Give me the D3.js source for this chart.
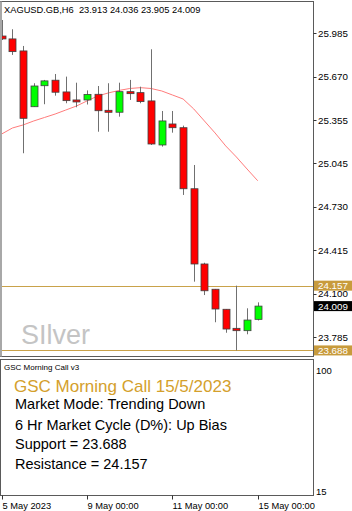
<!DOCTYPE html>
<html>
<head>
<meta charset="utf-8">
<script src="https://cdn.jsdelivr.net/npm/d3@7"></script>
<style>
  body { margin: 0; background: #fff; }
  svg { display: block; font-family: 'Liberation Sans', Arial, sans-serif; }
</style>
</head>
<body>
<div id="chart"></div>
<script>
// H6 bars, XAGUSD
const times = [
  '5 May 00:00', '5 May 06:00', '5 May 12:00', '5 May 18:00',
  '8 May 00:00', '8 May 06:00', '8 May 12:00', '8 May 18:00',
  '9 May 00:00', '9 May 06:00', '9 May 12:00', '9 May 18:00',
  '10 May 00:00', '10 May 06:00', '10 May 12:00', '10 May 18:00',
  '11 May 00:00', '11 May 06:00', '11 May 12:00', '11 May 18:00',
  '12 May 00:00', '12 May 06:00', '12 May 12:00', '12 May 18:00',
  '15 May 00:00'
]
const opens = [25.965, 25.944, 25.857, 25.453, 25.605, 25.645, 25.560, 25.502, 25.502, 25.543, 25.427, 25.413, 25.562, 25.555, 25.495, 25.176, 25.328, 25.301, 24.859, 24.314, 24.131, 23.986, 23.848, 23.831, 23.913]
const highs = [26.081, 26.014, 25.893, 25.623, 25.647, 25.690, 25.671, 25.627, 25.571, 25.603, 25.623, 25.627, 25.647, 25.598, 25.869, 25.422, 25.422, 25.316, 25.031, 24.323, 24.133, 23.988, 24.157, 23.993, 24.036]
const lows = [25.936, 25.828, 25.116, 25.451, 25.471, 25.533, 25.478, 25.449, 25.469, 25.272, 25.272, 25.381, 25.502, 25.478, 25.176, 25.164, 25.265, 24.814, 24.186, 24.089, 23.892, 23.816, 23.688, 23.805, 23.905]
const closes = [25.944, 25.852, 25.369, 25.603, 25.640, 25.558, 25.497, 25.498, 25.542, 25.424, 25.413, 25.562, 25.550, 25.490, 25.183, 25.350, 25.301, 24.859, 24.314, 24.120, 23.988, 23.843, 23.831, 23.908, 24.009]
const maValues = [25.256, 25.299, 25.321, 25.350, 25.375, 25.400, 25.429, 25.458, 25.495, 25.531, 25.553, 25.571, 25.585, 25.591, 25.585, 25.567, 25.538, 25.509, 25.437, 25.350, 25.263, 25.169, 25.089, 25.002, 24.917]

const priceTicks = [25.985, 25.670, 25.355, 25.045, 24.730, 24.415, 24.100, 23.785]
const timeTicks = ['5 May 00:00', '9 May 00:00', '11 May 00:00', '15 May 00:00']
const timeTickText = ['5 May 2023', '9 May 00:00', '11 May 00:00', '15 May 00:00']
const subTicks = [100, 15]

const support = 23.688
const resistance = 24.157
const lastPrice = 24.009
const headerText = 'XAGUSD.GB,H6  23.913 24.036 23.905 24.009'
const watermark = 'SIlver'
const indicatorName = 'GSC Morning Call v3'
const callTitle = 'GSC Morning Call 15/5/2023'
const callLines = [
  'Market Mode: Trending Down',
  '6 Hr Market Cycle (D%): Up Bias',
  'Support = ' + support.toFixed(3),
  'Resistance = ' + resistance.toFixed(3)
]

const W = 352
const H = 511
const main = { l: 0.5, r: 313.5, t: 1.5, b: 356.5 }
const sub = { t: 359.5, b: 495.5 }
const gold = '#c9a24a'

const svg = d3.select('#chart')
  .append('svg')
  .attr('width', W)
  .attr('height', H)

const scaleX = d3.scalePoint().domain(times).range([1.8, 257.7])
const scaleY = d3.scaleLinear().domain([23.644, 26.215]).range([main.b, main.t])
const scaleSub = d3.scaleLinear().domain([15, 100]).range([491, 370])

svg.append('clipPath').attr('id', 'clip-main')
  .append('rect')
  .attr('x', 0).attr('y', main.t)
  .attr('width', main.r).attr('height', main.b - main.t)

const plot = svg.append('g').attr('clip-path', 'url(#clip-main)')

// watermark
plot.append('text')
  .attr('x', 21).attr('y', 344)
  .attr('font-size', 27)
  .attr('fill', '#c4c4c4')
  .text(watermark)

// support / resistance
plot.selectAll('.level')
  .data([resistance, support])
  .enter()
  .append('line')
  .attr('class', 'level')
  .attr('x1', 0).attr('x2', main.r)
  .attr('y1', d => Math.round(scaleY(d)) + 0.5)
  .attr('y2', d => Math.round(scaleY(d)) + 0.5)
  .attr('stroke', gold)

// moving average
plot.append('path')
  .datum(maValues)
  .attr('fill', 'none')
  .attr('stroke', '#ff7c7c')
  .attr('stroke-width', 1)
  .attr('d', d3.line().x((d, i) => scaleX(times[i])).y(d => scaleY(d)))

// candles
const candles = plot.selectAll('.candle')
  .data(times)
  .enter()
  .append('g')
  .attr('class', 'candle')

candles.append('line')
  .attr('x1', d => Math.round(scaleX(d)) + 0.5)
  .attr('x2', d => Math.round(scaleX(d)) + 0.5)
  .attr('y1', (d, i) => scaleY(highs[i]))
  .attr('y2', (d, i) => scaleY(lows[i]))
  .attr('stroke', '#707070')

candles.append('rect')
  .attr('x', d => Math.round(scaleX(d)) - 3)
  .attr('width', 7)
  .attr('y', (d, i) => scaleY(Math.max(opens[i], closes[i])))
  .attr('height', (d, i) => Math.max(2, Math.abs(scaleY(opens[i]) - scaleY(closes[i]))))
  .attr('fill', (d, i) => closes[i] > opens[i] ? '#00ff00' : '#ff0000')
  .attr('stroke', '#404040')
  .attr('stroke-width', 0.8)

// frames
svg.append('rect')
  .attr('x', main.l).attr('y', main.t)
  .attr('width', main.r - main.l).attr('height', main.b - main.t)
  .attr('fill', 'none').attr('stroke', '#5a5a5a')
svg.append('line')
  .attr('x1', 1).attr('x2', 1).attr('y1', main.t).attr('y2', main.b)
  .attr('stroke', '#a8a8a8').attr('stroke-width', 2)

svg.append('rect')
  .attr('x', main.l).attr('y', sub.t)
  .attr('width', main.r - main.l).attr('height', sub.b - sub.t)
  .attr('fill', 'none').attr('stroke', '#5a5a5a')

// header
svg.append('text')
  .attr('x', 4).attr('y', 12.5)
  .attr('font-size', 9.3)
  .attr('fill', '#000')
  .attr('xml:space', 'preserve')
  .style('white-space', 'pre')
  .text(headerText)

// price axis
const axisY = svg.append('g').attr('class', 'axis-y')
axisY.selectAll('line')
  .data(priceTicks)
  .enter()
  .append('line')
  .attr('x1', main.r).attr('x2', main.r + 3)
  .attr('y1', d => Math.round(scaleY(d)) + 0.5)
  .attr('y2', d => Math.round(scaleY(d)) + 0.5)
  .attr('stroke', '#333')
axisY.selectAll('text')
  .data(priceTicks)
  .enter()
  .append('text')
  .attr('x', 318).attr('y', d => scaleY(d) + 3.5)
  .attr('font-size', 9.8)
  .attr('fill', '#000')
  .text(d => d.toFixed(3))

// price tags
const tags = [
  { v: resistance, bg: '#c89b3c' },
  { v: lastPrice, bg: '#000' },
  { v: support, bg: '#c89b3c' }
]
const tagG = svg.selectAll('.tag')
  .data(tags)
  .enter()
  .append('g')
  .attr('class', 'tag')
tagG.append('rect')
  .attr('x', 314).attr('width', 38)
  .attr('y', d => scaleY(d.v) - 5).attr('height', 10)
  .attr('fill', d => d.bg)
tagG.append('text')
  .attr('x', 318).attr('y', d => scaleY(d.v) + 3.5)
  .attr('font-size', 9.8)
  .attr('fill', '#fff')
  .text(d => d.v.toFixed(3))

// sub window
svg.append('text')
  .attr('x', 4).attr('y', 370)
  .attr('font-size', 8)
  .text(indicatorName)

svg.append('text')
  .attr('x', 14).attr('y', 392)
  .attr('font-size', 17)
  .attr('fill', '#d4a02c')
  .text(callTitle)

const lineY = [409, 429.5, 448.5, 468.5]
svg.selectAll('.call-line')
  .data(callLines)
  .enter()
  .append('text')
  .attr('class', 'call-line')
  .attr('x', 15).attr('y', (d, i) => lineY[i])
  .attr('font-size', 14.5)
  .attr('fill', '#000')
  .text(d => d)

svg.selectAll('.sub-tick')
  .data(subTicks)
  .enter()
  .append('text')
  .attr('class', 'sub-tick')
  .attr('x', 316).attr('y', d => scaleSub(d) + 3.5)
  .attr('font-size', 9.5)
  .text(d => d)

// time axis
const axisX = svg.append('g').attr('class', 'axis-x')
axisX.selectAll('line')
  .data(timeTicks)
  .enter()
  .append('line')
  .attr('x1', d => Math.round(scaleX(d)) + 0.5)
  .attr('x2', d => Math.round(scaleX(d)) + 0.5)
  .attr('y1', sub.b).attr('y2', sub.b + 4)
  .attr('stroke', '#333')
axisX.selectAll('text')
  .data(timeTicks)
  .enter()
  .append('text')
  .attr('x', d => Math.round(scaleX(d)) + 0.5)
  .attr('y', 509)
  .attr('font-size', 9.3)
  .text((d, i) => timeTickText[i])
</script>
</body>
</html>
